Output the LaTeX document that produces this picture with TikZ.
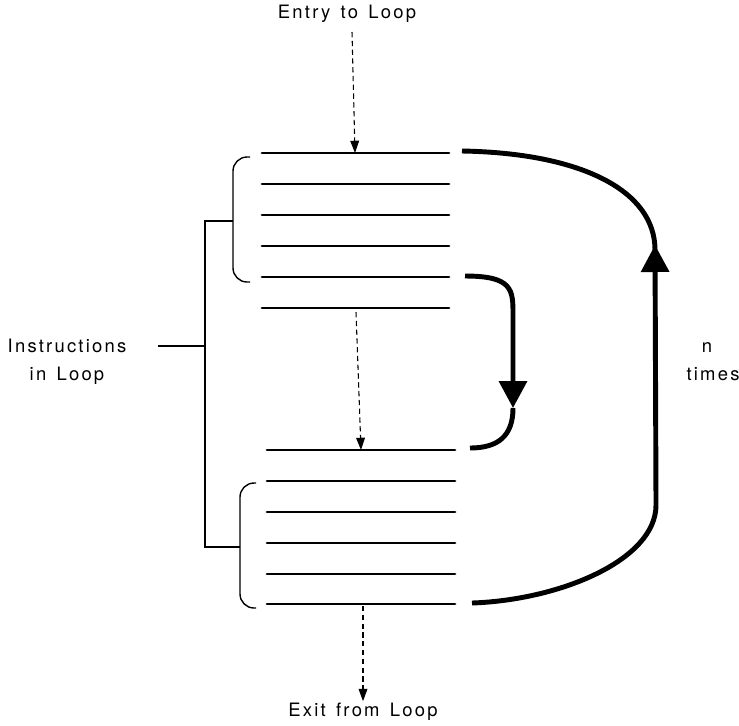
\documentclass[tikz,border=0pt]{standalone}
\usepackage{fontspec}
\setmainfont{TeX Gyre Heros}[LetterSpace=12,WordSpace=1.4]
\usetikzlibrary{arrows.meta}

\begin{document}
\begin{tikzpicture}[x=0.02cm,y=-0.02cm,
  instr/.style={line width=1.6pt,line cap=round},
  brace/.style={line width=0.8pt,rounded corners=8},
  loopline/.style={line width=2.8pt},
  bighead/.style={-{Triangle[length=0.54cm,width=0.55cm]}},
  flow/.style={densely dashed,line width=0.6pt,-{Triangle[length=7pt,width=5pt]}},
  lbl/.style={font=\fontsize{10.5}{16}\selectfont,inner sep=1pt}]
\useasboundingbox (0,0) rectangle (739,725);

% the two blocks of instructions
\foreach \y in {153,184,215,246,277,308}
  \draw[instr] (262,\y) -- (449,\y);
\foreach \y in {450,481,512,543,574,604}
  \draw[instr] (267,\y) -- (455,\y);

% brackets and the label joining them
\draw[brace] (250,157) -- (233,157) -- (233,282) -- (250,282);
\draw[brace] (256,483) -- (240,483) -- (240,608) -- (256,608);
\draw[line width=0.8pt] (233,221) -- (205,221) -- (205,547) -- (240,547);
\node[lbl,align=center] (instrs) at (67,362) {Instructions\\in Loop};
\coordinate (tick) at (158,346);
\draw[line width=0.8pt] (tick) -- (205,346);

% entry, skip and exit
\node[lbl] (entry) at (347,14) {Entry to Loop};
\coordinate (entryend) at (355,153);
\draw[flow] (352,32) -- (entryend);
\coordinate (skipstart) at (356,312);
\coordinate (skipend) at (361,450);
\draw[flow] (skipstart) -- (skipend);
\node[lbl] (exit) at (363,712) {Exit from Loop};
\coordinate (exitstart) at (363,606);
\draw[flow] (exitstart) -- (exit.north);

% short jump over the middle
\coordinate (jumpa) at (465,276);
\coordinate (jumpb) at (513,408);
\coordinate (jumpc) at (470,448);
\draw[loopline,bighead] (jumpa) .. controls (513,276) and (513,290) .. (513,315) -- (jumpb);
\draw[loopline] (jumpb) .. controls (513,436) and (498,448) .. (jumpc);

% repeat n times
\coordinate (backa) at (472,603);
\coordinate (backb) at (655,245);
\coordinate (backc) at (462,151);
\draw[loopline,bighead] (backa) .. controls (560,600) and (656,560) .. (656,505) -- (backb);
\draw[loopline] (655,250) .. controls (655,190) and (580,153) .. (backc);
\node[lbl] (n) at (707,348) {n};
\node[lbl] (times) at (713,374) {times};
\end{tikzpicture}
\end{document}
